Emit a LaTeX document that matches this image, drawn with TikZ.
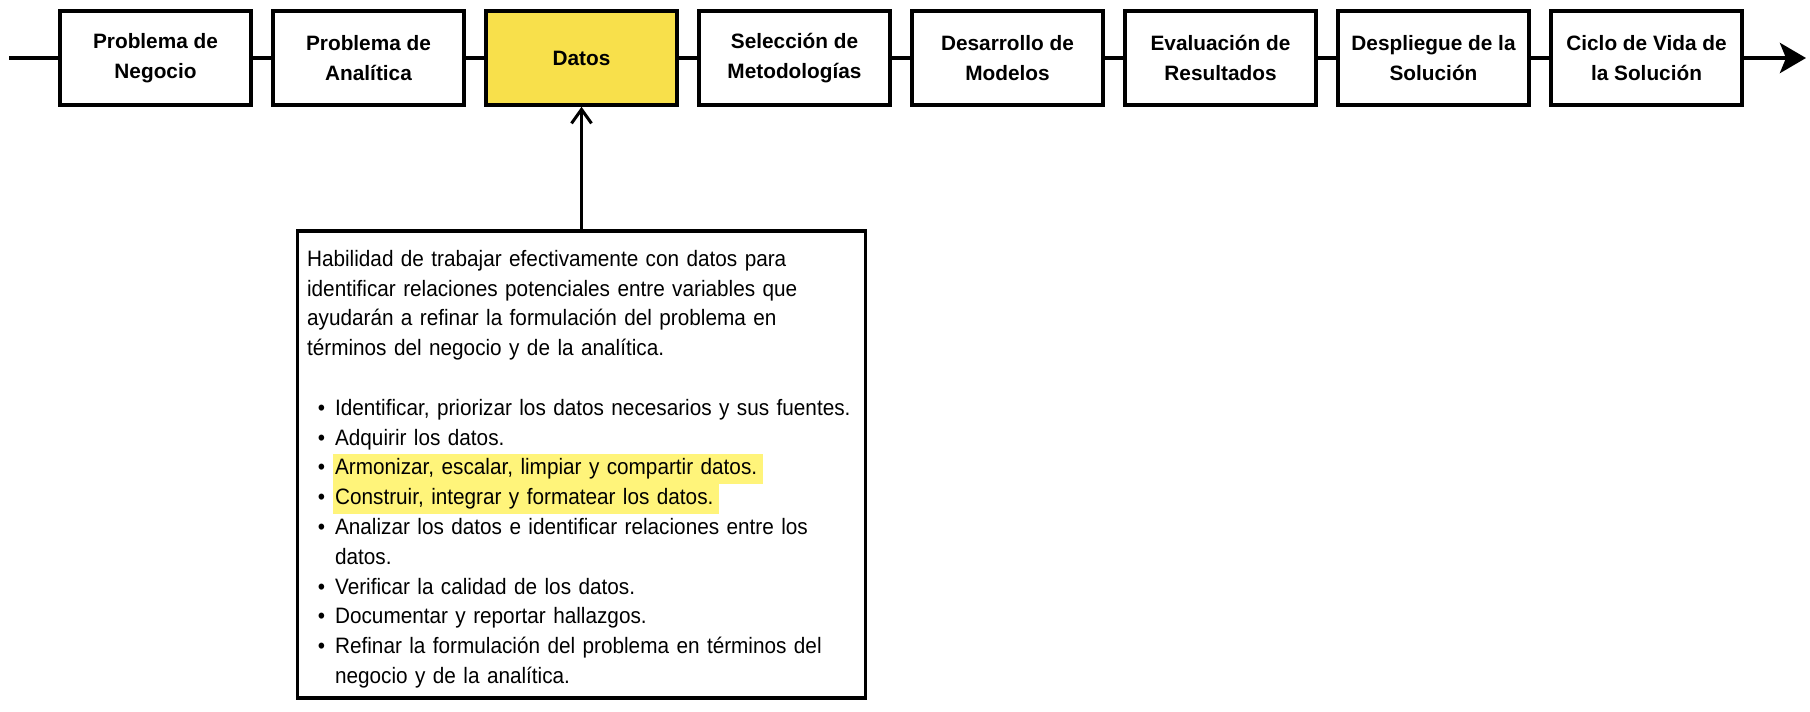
\documentclass[tikz,border=0pt]{standalone}
\usepackage{fontspec}
\setmainfont{Liberation Sans}
\newfontfamily\descfont{Liberation Sans}[FakeStretch=0.93]
\usepackage{xcolor}
\usepackage{enumitem}
\usepackage{tikz}
\usetikzlibrary{arrows.meta, positioning}
\definecolor{DatosYellow}{HTML}{F8E04B}
\definecolor{MarkYellow}{HTML}{FFF47A}
\hyphenpenalty=10000
\exhyphenpenalty=10000
\newcommand{\marked}[1]{\hspace*{-1pt}{\setlength{\fboxsep}{0pt}\colorbox{MarkYellow}{\hspace{1pt}\strut#1\hspace{3pt}}}}

\begin{document}
\begin{tikzpicture}[
    x=0.5pt, y=-0.5pt,
    phase/.style={draw=black, line width=1.8pt, fill=white, minimum width=95.5pt, minimum height=47pt, inner sep=0pt, align=center, font=\fontsize{10.4pt}{15pt}\selectfont\bfseries},
    current/.style={phase, fill=DatosYellow},
    flow/.style={line width=2.3pt},
    link/.style={line width=1.5pt, -{Straight Barb[length=7pt, width=10pt]}},
    descbox/.style={draw=black, line width=1.8pt, minimum width=284pt, minimum height=233.5pt, inner sep=0pt},
    desctext/.style={text width=280pt, inner sep=0pt, align=left, font=\descfont\fontsize{11.15pt}{14.9pt}\selectfont}
]
\useasboundingbox (0,0) rectangle (1810,712);

% Phases
\node[phase] (p1) at (155.5, 58) {Problema de\\Negocio};
\node[phase] (p2) at (368.5, 58) {Problema de\\Analítica};
\node[current] (p3) at (581.5, 58) {Datos};
\node[phase] (p4) at (794.5, 58) {Selección de\\Metodologías};
\node[phase] (p5) at (1007.5, 58) {Desarrollo de\\Modelos};
\node[phase] (p6) at (1220.5, 58) {Evaluación de\\Resultados};
\node[phase] (p7) at (1433.5, 58) {Despliegue de la\\Solución};
\node[phase] (p8) at (1646.5, 58) {Ciclo de Vida de\\la Solución};

\coordinate (start) at (9, 58);
\coordinate (end) at (1806, 58);
\draw[flow] (start) -- (p1);
\draw[flow] (p1) -- (p2);
\draw[flow] (p2) -- (p3);
\draw[flow] (p3) -- (p4);
\draw[flow] (p4) -- (p5);
\draw[flow] (p5) -- (p6);
\draw[flow] (p6) -- (p7);
\draw[flow] (p7) -- (p8);
\draw[flow, -{Stealth[length=13pt, width=15pt, inset=3pt]}] (p8) -- (end);

% Description of the Datos phase
\node[descbox] (desc) at (581.5, 464.5) {};
\draw[link] (desc.north) -- (p3.south);

\node[desctext, anchor=base west] (info) at ([shift={(11,37)}]desc.north west) {%
{\rightskip=20pt plus 1fil
Habilidad de trabajar efectivamente con datos para identificar relaciones potenciales entre variables que ayudarán a refinar la formulación del problema en términos del negocio y de la analítica.\par}
\begin{itemize}[topsep=\baselineskip, itemsep=0pt, parsep=0pt, partopsep=0pt, leftmargin=14pt, labelsep=5pt, label=\textbullet]
\item Identificar, priorizar los datos necesarios y sus fuentes.
\item Adquirir los datos.
\item \marked{Armonizar, escalar, limpiar y compartir datos.}
\item \marked{Construir, integrar y formatear los datos.}
\item Analizar los datos e identificar relaciones entre los datos.
\item Verificar la calidad de los datos.
\item Documentar y reportar hallazgos.
\item Refinar la formulación del problema en términos del negocio y de la analítica.
\end{itemize}};
\end{tikzpicture}
\end{document}
